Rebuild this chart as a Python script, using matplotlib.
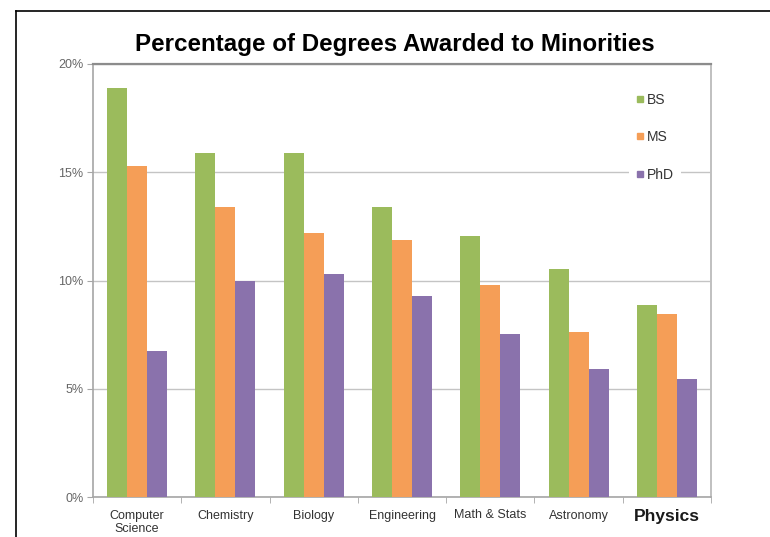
import matplotlib
matplotlib.use("Agg")
import matplotlib.pyplot as plt
from matplotlib.lines import Line2D
from matplotlib.ticker import FixedLocator, PercentFormatter

# datos
categorias = ["Computer\nScience", "Chemistry", "Biology", "Engineering",
              "Math & Stats", "Astronomy", "Physics"]
bs = [18.9, 15.9, 15.9, 13.4, 12.05, 10.55, 8.85]
ms = [15.3, 13.4, 12.2, 11.85, 9.8, 7.6, 8.45]
phd = [6.75, 10.0, 10.3, 9.3, 7.55, 5.9, 5.45]
series = ["BS", "MS", "PhD"]
colores = ["#9bbb5c", "#f59e57", "#8a72ac"]

plt.rcParams['font.family'] = ['Liberation Sans', 'DejaVu Sans']

fig = plt.figure(figsize=(7.7, 5.37), dpi=100)
ax = fig.add_axes([93/770, 1-497/537, (711-93)/770, (497-64)/537])

x = list(range(len(categorias)))
w = 0.227
for i, (vals, col) in enumerate(zip([bs, ms, phd], colores)):
    ax.bar([xi + (i-1)*w for xi in x], vals, width=w, color=col, zorder=3)

ax.set_xlim(-0.5, len(categorias) - 0.5)
ax.set_ylim(0, 20)
ax.set_yticks([0, 5, 10, 15, 20])
ax.yaxis.set_major_formatter(PercentFormatter(decimals=0))
ax.grid(axis='y', color='#c4c4c4', lw=1, zorder=0)

ax.set_xticks(x)
ax.set_xticklabels(categorias)
ax.xaxis.set_minor_locator(FixedLocator([k + 0.5 for k in range(-1, len(categorias))]))
ax.tick_params(axis='x', which='major', length=0, pad=9, labelsize=9, labelcolor='#333333')
ax.tick_params(axis='x', which='minor', length=4, color='#a6a6a6', direction='out')
ax.tick_params(axis='y', length=4, color='#a6a6a6', labelsize=9, labelcolor='#666666', pad=3)
lab = ax.get_xticklabels()[-1]
lab.set_fontweight('bold')
lab.set_fontsize(12.5)
lab.set_color('#1a1a1a')

for s in ['left', 'bottom']:
    ax.spines[s].set_color('#a6a6a6')
    ax.spines[s].set_linewidth(1.2)
ax.spines['top'].set_color('#8c8c8c')
ax.spines['top'].set_linewidth(1.6)
ax.spines['right'].set_color('#c0c0c0')
ax.spines['right'].set_linewidth(1.4)

handles = [Line2D([], [], marker='s', ls='none', color=c, markersize=5) for c in colores]
leg = ax.legend(handles, series, loc='upper left', bbox_to_anchor=(629/770, 1-86/537),
                bbox_transform=fig.transFigure, frameon=True, fontsize=10,
                labelspacing=1.68, handlelength=0.6, handletextpad=0.2,
                borderpad=0.5, borderaxespad=0)
leg.get_frame().set_facecolor('white')
leg.get_frame().set_edgecolor('none')
leg.get_frame().set_alpha(1)
for t in leg.get_texts():
    t.set_color('#333333')

fig.text(395/770, 1-45/537, "Percentage of Degrees Awarded to Minorities",
         ha='center', va='center', fontsize=17.4, fontweight='bold')

# marco negro (solo izquierda y arriba)
fig.add_artist(Line2D([16/770, 16/770], [0, 1-11/537], color='black', lw=1.2,
                      transform=fig.transFigure))
fig.add_artist(Line2D([16/770, 1], [1-11/537, 1-11/537], color='black', lw=1.2,
                      transform=fig.transFigure))

fig.savefig("out.png", dpi=100)
